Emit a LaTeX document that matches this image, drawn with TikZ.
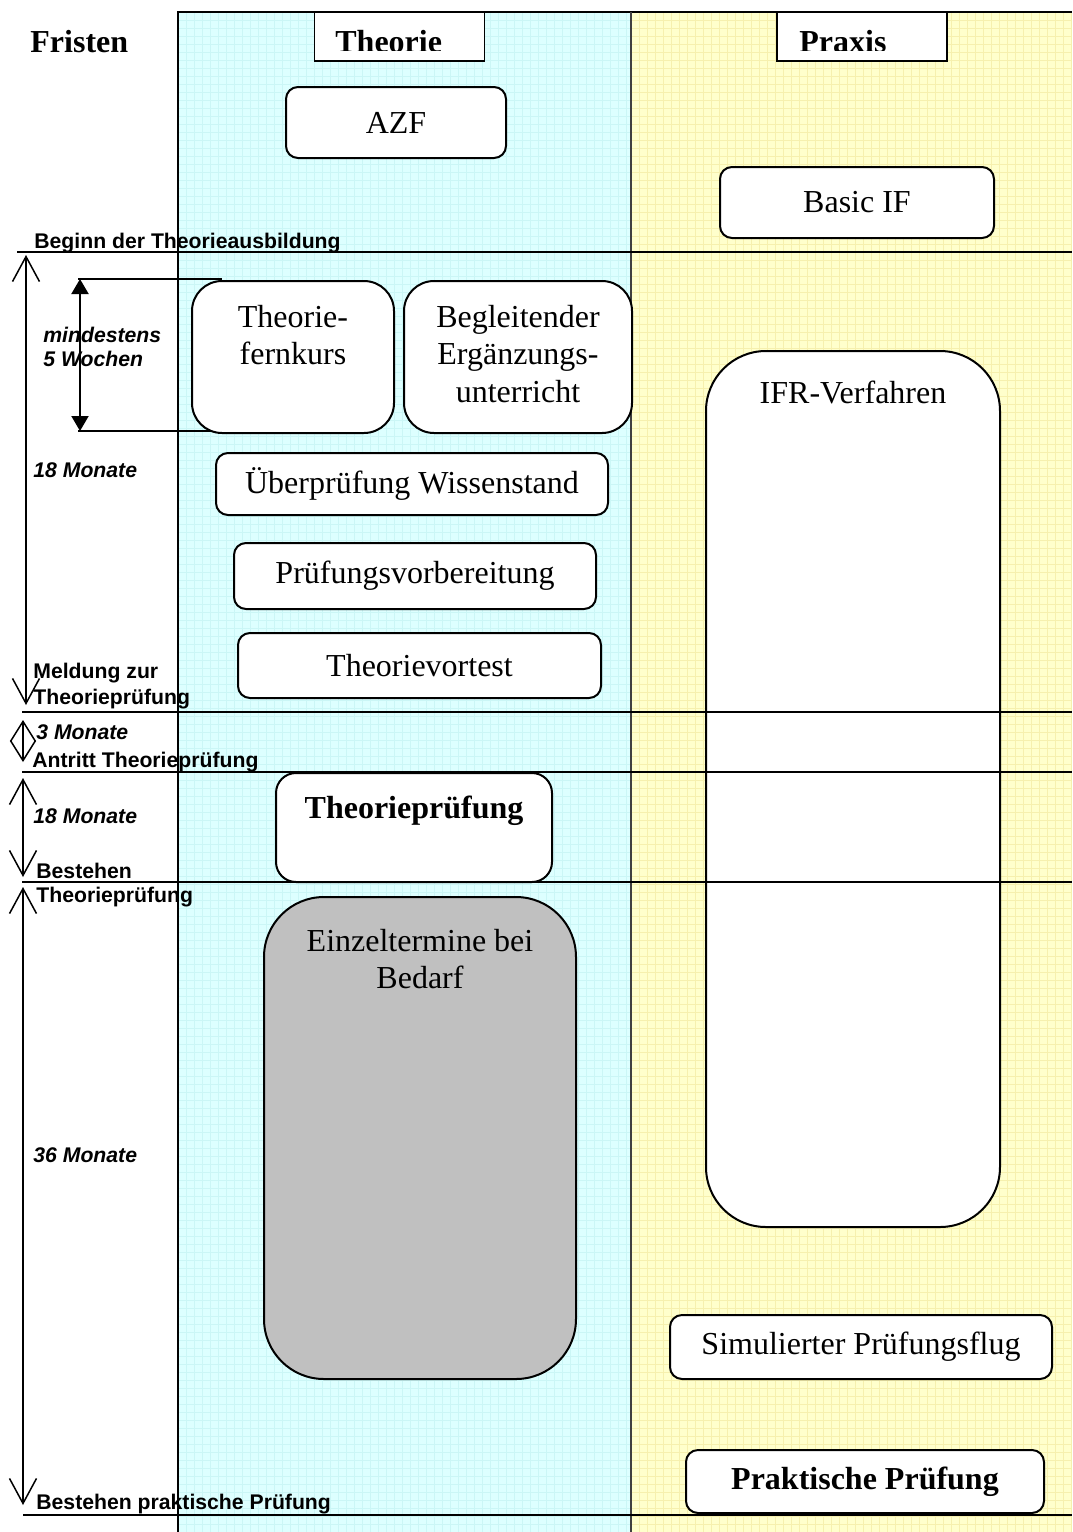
\documentclass[tikz,border=0pt]{standalone}
\usepackage{fontspec}
\setmainfont{Liberation Serif}
\setsansfont{Liberation Sans}
\usetikzlibrary{arrows.meta,positioning}

\definecolor{theoriebg}{HTML}{DDFFFF}
\definecolor{theoriegrid}{HTML}{CBF6F6}
\definecolor{praxisbg}{HTML}{FFFFCC}
\definecolor{praxisgrid}{HTML}{F6F0AE}
\definecolor{bedarfgray}{HTML}{C0C0C0}

\begin{document}
\begin{tikzpicture}[x=0.5pt,y=-0.5pt,
	box/.style		=	{draw,line width=1pt,fill=white,rounded corners=6pt,inner sep=0pt,outer sep=0pt,
							font=\fontsize{16}{18.8}\selectfont},
	txt/.style		=	{align=center,inner sep=0pt,outer sep=0pt,font=\fontsize{16}{18.8}\selectfont},
	hdbox/.style	=	{draw,line width=0.9pt,fill=white,inner sep=0pt,outer sep=0pt},
	hdtxt/.style	=	{inner sep=0pt,anchor=base west,font=\bfseries\fontsize{16}{18}\selectfont},
	lbl/.style		=	{inner sep=0pt,anchor=base west,align=left,font=\sffamily\bfseries\fontsize{10.6}{12}\selectfont},
	ilbl/.style		=	{lbl,font=\sffamily\bfseries\itshape\fontsize{10.6}{12}\selectfont},
	rule/.style		=	{line width=1pt},
	bigarrow/.style	=	{line width=0.75pt,>={Straight Barb[length=12.5pt,width=13.5pt]},<->},
	smallarrow/.style	=	{line width=0.75pt,>={Straight Barb[length=10pt,width=12.5pt]},<->},
	inarrow/.style	=	{line width=1pt,>={Triangle[length=7.5pt,width=8.5pt]},<->}]

	\useasboundingbox (0,0) rectangle (1072,1532);
	\fill[white] (0,0) rectangle (1072,1532);

	\begin{scope}
		\fill[theoriebg] (178,12) rectangle (631,1532);
		\draw[theoriegrid,line width=0.4pt]
			\foreach \gx in {186,194,...,626} {(\gx,12) -- (\gx,1532)}
			\foreach \gy in {20,28,...,1532} {(178,\gy) -- (631,\gy)};
		\fill[praxisbg] (631,12) rectangle (1072,1532);
		\draw[praxisgrid,line width=0.4pt]
			\foreach \gx in {639,647,...,1071} {(\gx,12) -- (\gx,1532)}
			\foreach \gy in {20,28,...,1532} {(631,\gy) -- (1072,\gy)};
		\draw[line width=1pt] (178,1532) -- (178,12) -- (1072,12);
		\draw[line width=1.2pt,black!75] (631,12) -- (631,1532);
	\end{scope}

	\node[anchor=base west,inner sep=0pt,font=\bfseries\fontsize{16}{18}\selectfont] (fristen) at (30,52) {Fristen};

	\node[hdbox,minimum width=85pt,minimum height=24.5pt] (thhd) at (399.5,36.5) {};
	\node[hdbox,minimum width=85pt,minimum height=24.5pt] (prhd) at (862,36.5) {};
	\begin{scope}
		\clip (315,12) rectangle (484,50) (778,12) rectangle (947,50);
		\node[hdtxt] (thtxt) at (335,52) {Theorie};
		\node[hdtxt] (prtxt) at (799,52) {Praxis};
	\end{scope}

	\draw[rule] (78,279) -- (222,279)	(78,431) -- (216,431);

	\node[box,minimum width=110pt,minimum height=35.5pt] (azf) at (396,122.5) {AZF};
	\node[box,minimum width=137pt,minimum height=35.5pt] (basic) at (857,202.5) {Basic IF};
	\node[box,rounded corners=15pt,minimum width=101pt,minimum height=76pt] (fern) at (293,357) {};
	\node[txt,below=12pt of fern.north] (ferntxt) {Theorie-\\fernkurs};
	\node[box,rounded corners=15pt,minimum width=114pt,minimum height=76pt] (begl) at (518,357) {};
	\node[txt,below=12pt of begl.north] (begltxt) {Begleitender\\Ergänzungs-\\unterricht};
	\node[box,minimum width=196pt,minimum height=31pt] (wiss) at (412,484) {Überprüfung Wissenstand};
	\node[box,minimum width=181pt,minimum height=33pt] (vorb) at (415,576) {Prüfungsvorbereitung};
	\node[box,minimum width=181.5pt,minimum height=32.5pt] (vort) at (419.5,665.5) {Theorievortest};
	\node[box,rounded corners=10pt,minimum width=138pt,minimum height=54.5pt] (tpr) at (414,827.5) {};
	\node[txt,font=\bfseries\fontsize{16}{18.8}\selectfont,below=11.5pt of tpr.north] (tprtxt) {Theorieprüfung};
	\node[box,fill=bedarfgray,rounded corners=30pt,minimum width=156pt,minimum height=241pt] (bedarf) at (420,1138) {};
	\node[txt,below=16pt of bedarf.north] (bedarftxt) {Einzeltermine bei\\Bedarf};
	\node[box,rounded corners=30pt,minimum width=147pt,minimum height=438pt] (ifr) at (853,789) {};
	\node[txt,below=15pt of ifr.north] (ifrtxt) {IFR-Verfahren};
	\node[box,minimum width=191pt,minimum height=32pt] (simu) at (861,1347) {Simulierter Prüfungsflug};
	\node[box,font=\bfseries\fontsize{16}{18.8}\selectfont,minimum width=179pt,minimum height=31.5pt] (prakt) at (865,1481.5) {Praktische Prüfung};

	\foreach \ly/\lx in {252/17,712/22,772/22,882/22,1515/23}
		\draw[rule] (\lx,\ly) -- (1072,\ly);

	\coordinate (m0) at (26,255);
	\coordinate (m1) at (26,705);
	\coordinate (d0) at (23,720);
	\coordinate (d1) at (23,762);
	\coordinate (p0) at (23,778);
	\coordinate (p1) at (23,877);
	\coordinate (q0) at (23,887);
	\coordinate (q1) at (23,1505);
	\coordinate (w0) at (80,279);
	\coordinate (w1) at (80,431);

	\draw[bigarrow] (m0) -- (m1);
	\draw[smallarrow] (d0) -- (d1);
	\draw[bigarrow] (p0) -- (p1);
	\draw[bigarrow] (q0) -- (q1);
	\draw[inarrow] (w0) -- (w1);

	\node[lbl] (beginn) at (34,248) {Beginn der Theorieausbildung};
	\node[ilbl,anchor=north west] (wochen) at (43,326.5) {mindestens\\5 Wochen};
	\node[ilbl] (monate1) at (33,477) {18 Monate};
	\node[lbl,anchor=north west,font=\sffamily\bfseries\fontsize{10.6}{13}\selectfont] (meldung) at (33,663) {Meldung zur\\Theorieprüfung};
	\node[ilbl] (monate2) at (36,739) {3 Monate};
	\node[lbl] (antritt) at (32,767) {Antritt Theorieprüfung};
	\node[ilbl] (monate3) at (33,823) {18 Monate};
	\node[lbl,anchor=north west] (bestehen) at (36,862.7) {Bestehen\\Theorieprüfung};
	\node[ilbl] (monate4) at (33,1162) {36 Monate};
	\node[lbl] (praktisch) at (36,1509) {Bestehen praktische Prüfung};
\end{tikzpicture}
\end{document}
